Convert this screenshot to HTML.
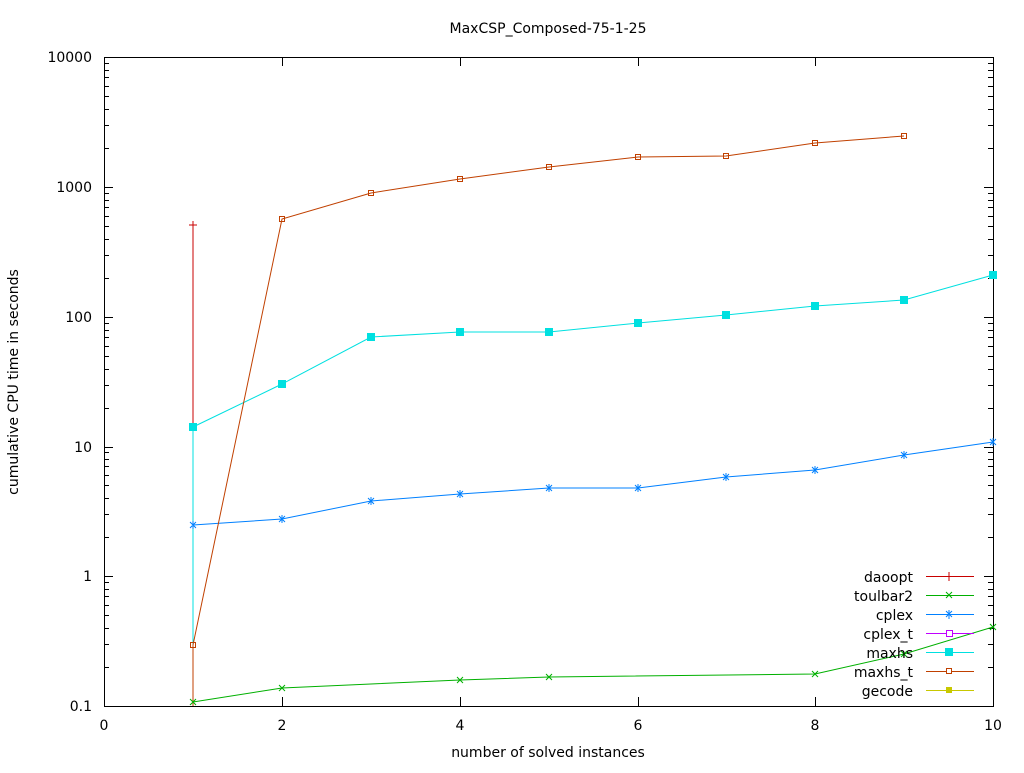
<!DOCTYPE html><html><head><style>body{margin:0;background:#fff}</style></head><body>
<svg width="1024" height="768" xmlns="http://www.w3.org/2000/svg" font-family="DejaVu Sans, sans-serif" font-size="14">
<rect width="1024" height="768" fill="#fff"/>
<text x="548" y="33" text-anchor="middle">MaxCSP_Composed-75-1-25</text>
<g stroke="#000" stroke-width="1">
<rect x="104.5" y="57.5" width="889" height="649" fill="none"/>
<path d="M104 706.5h9M993 706.5h-9M104 576.5h9M993 576.5h-9M104 447.5h9M993 447.5h-9M104 317.5h9M993 317.5h-9M104 187.5h9M993 187.5h-9M104 57.5h9M993 57.5h-9"/>
<path id="mt" d="M104 667.5h5M104 644.5h5M104 628.5h5M104 615.5h5M104 605.5h5M104 596.5h5M104 589.5h5M104 582.5h5"/>
<use href="#mt" y="-130"/><use href="#mt" y="-259"/><use href="#mt" y="-389"/><use href="#mt" y="-519"/>
<g transform="translate(1097,0) scale(-1,1)"><use href="#mt"/><use href="#mt" y="-130"/><use href="#mt" y="-259"/><use href="#mt" y="-389"/><use href="#mt" y="-519"/></g>
<path d="M282.5 706v-9M460.5 706v-9M638.5 706v-9M815.5 706v-9M282.5 57v9M460.5 57v9M638.5 57v9M815.5 57v9"/>
</g>
<g text-anchor="end">
<text x="92" y="711">0.1</text><text x="92" y="581">1</text><text x="92" y="452">10</text><text x="92" y="322">100</text><text x="92" y="192">1000</text><text x="92" y="62">10000</text>
</g>
<g text-anchor="middle">
<text x="104" y="730">0</text><text x="282" y="730">2</text><text x="460" y="730">4</text><text x="638" y="730">6</text><text x="815" y="730">8</text><text x="993" y="730">10</text>
<text x="548" y="757">number of solved instances</text>
<text transform="translate(18,382) rotate(-90)">cumulative CPU time in seconds</text>
</g>
<g fill="none" stroke-width="1">
<polyline stroke="#c80000" points="193,225 193,706"/>
<path stroke="#c80000" d="M189 225h8M193 221v8"/>
<polyline stroke="#00b000" points="193,702 282,688 460,680 549,677 815,674 904,654 993,627"/>
<polyline stroke="#0080ff" points="193,525 282,519 371,501 460,494 549,488 638,488 726,477 815,470 904,455 993,442"/>
<polyline stroke="#00e0e0" points="193,706 193,427 282,384 371,337 460,332 549,332 638,323 726,315 815,306 904,300 993,275"/>
<polyline stroke="#c04000" points="193,706 193,645 282,219 371,193 460,179 549,167 638,157 726,156 815,143 904,136"/>
</g>
<g stroke="#00b000"><path d="M190 699l6 6M196 699l-6 6M279 685l6 6M285 685l-6 6M457 677l6 6M463 677l-6 6M546 674l6 6M552 674l-6 6M812 671l6 6M818 671l-6 6M901 651l6 6M907 651l-6 6M990 624l6 6M996 624l-6 6"/></g>
<g stroke="#0080ff">
<path d="M190 522l6 6M196 522l-6 6M193 521v8M279 516l6 6M285 516l-6 6M282 515v8M368 498l6 6M374 498l-6 6M371 497v8M457 491l6 6M463 491l-6 6M460 490v8M546 485l6 6M552 485l-6 6M549 484v8M635 485l6 6M641 485l-6 6M638 484v8M723 474l6 6M729 474l-6 6M726 473v8M812 467l6 6M818 467l-6 6M815 466v8M901 452l6 6M907 452l-6 6M904 451v8M990 439l6 6M996 439l-6 6M993 438v8"/>
</g>
<g fill="#00e0e0">
<rect x="189" y="423" width="8" height="8"/><rect x="278" y="380" width="8" height="8"/><rect x="367" y="333" width="8" height="8"/><rect x="456" y="328" width="8" height="8"/><rect x="545" y="328" width="8" height="8"/><rect x="634" y="319" width="8" height="8"/><rect x="722" y="311" width="8" height="8"/><rect x="811" y="302" width="8" height="8"/><rect x="900" y="296" width="8" height="8"/><rect x="989" y="271" width="8" height="8"/>
</g>
<g fill="none" stroke="#c04000">
<rect x="190.5" y="642.5" width="5" height="5"/><rect x="279.5" y="216.5" width="5" height="5"/><rect x="368.5" y="190.5" width="5" height="5"/><rect x="457.5" y="176.5" width="5" height="5"/><rect x="546.5" y="164.5" width="5" height="5"/><rect x="635.5" y="154.5" width="5" height="5"/><rect x="723.5" y="153.5" width="5" height="5"/><rect x="812.5" y="140.5" width="5" height="5"/><rect x="901.5" y="133.5" width="5" height="5"/>
</g>
<g text-anchor="end">
<text x="913" y="582">daoopt</text><text x="913" y="601">toulbar2</text><text x="913" y="620">cplex</text><text x="913" y="639">cplex_t</text><text x="913" y="658">maxhs</text><text x="913" y="677">maxhs_t</text><text x="913" y="696">gecode</text>
</g>
<g stroke-width="1">
<path stroke="#c80000" d="M926 576.5h48M949 572v9"/>
<path stroke="#00b000" d="M926 595.5h48M946 592l6 6M952 592l-6 6"/>
<path stroke="#0080ff" d="M926 614.5h48M946 611l6 6M952 611l-6 6M949 610v9"/>
<path stroke="#c000ff" d="M926 633.5h48"/><rect x="946.5" y="630.5" width="6" height="6" fill="#fff" stroke="#c000ff"/>
<path stroke="#00e0e0" d="M926 652.5h48"/><rect x="945" y="648" width="8" height="8" fill="#00e0e0"/>
<path stroke="#c04000" d="M926 671.5h48"/><rect x="946.5" y="668.5" width="5" height="5" fill="#fff" stroke="#c04000"/>
<path stroke="#c8c800" d="M926 690.5h48"/><rect x="946" y="687" width="6" height="6" fill="#c8c800"/>
</g>
</svg></body></html>
